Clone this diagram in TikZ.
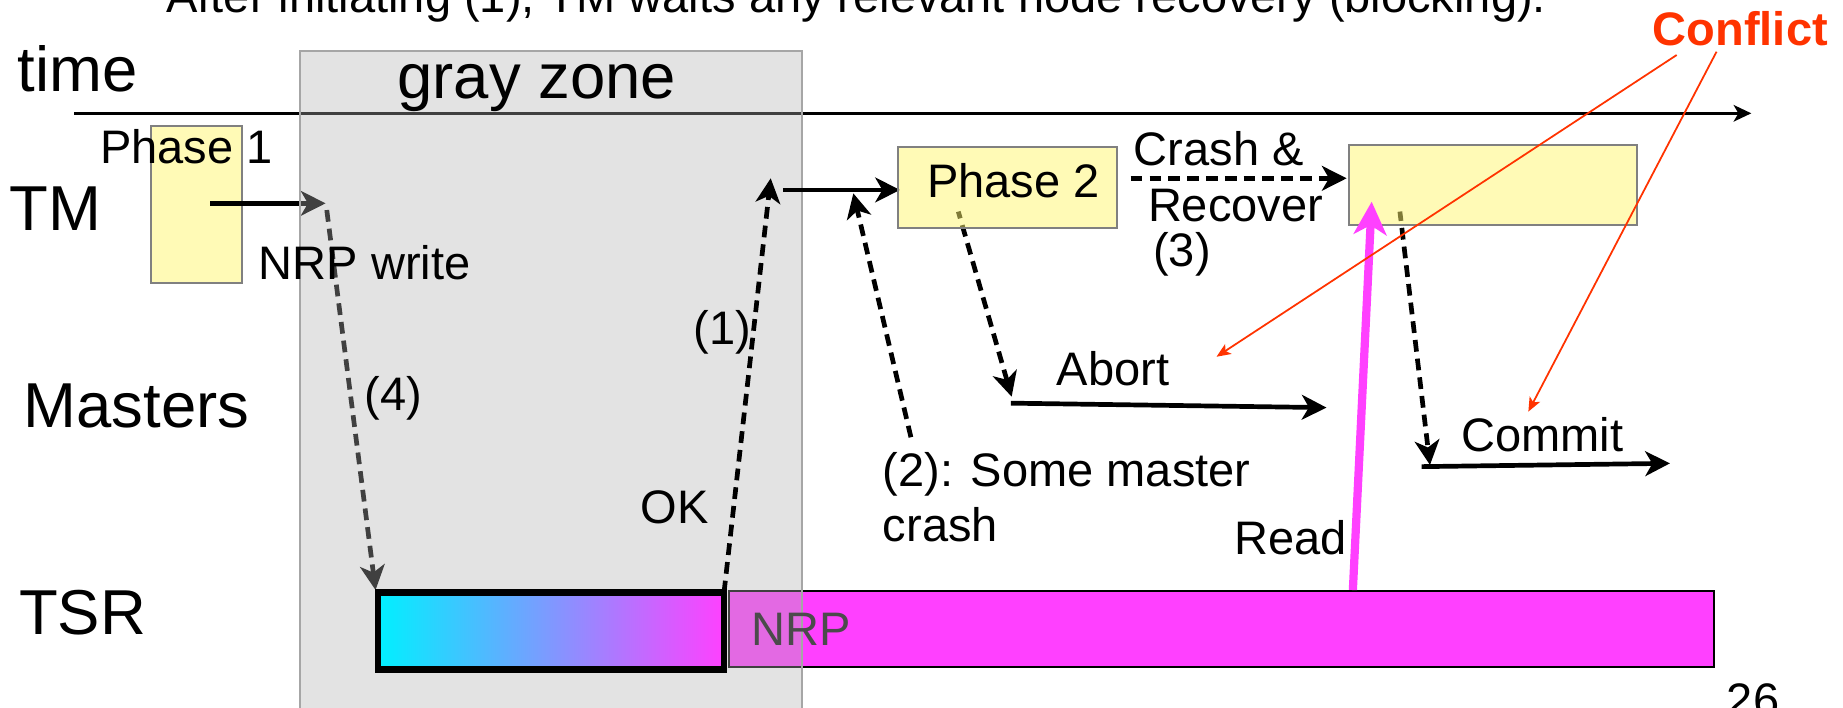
\documentclass[tikz,border=0pt]{standalone}
\usepackage{fontspec}
\setmainfont{Liberation Sans}
\usetikzlibrary{arrows.meta}
\definecolor{yel}{RGB}{255,245,110}
\definecolor{mag}{RGB}{255,64,255}
\definecolor{cy}{RGB}{0,240,255}
\definecolor{conf}{RGB}{255,51,0}
\definecolor{nrptext}{RGB}{75,75,75}
\tikzset{
  bigtxt/.style={font=\fontsize{54}{60}\selectfont, inner sep=0pt, anchor=base west},
  lbl/.style={font=\fontsize{40}{47}\selectfont, inner sep=0pt, anchor=base west},
  ybox/.style={draw=black!50, line width=1.5pt, fill=yel, fill opacity=0.5, anchor=north west, inner sep=0pt, outer sep=0pt},
  tip/.style={-{Stealth[length=21pt,width=21pt,inset=6pt]}},
  dsh/.style={tip, line width=4pt, dash pattern=on 10pt off 6pt},
  sol/.style={tip, line width=4pt},
  redarr/.style={conf, line width=1.5pt, -{Stealth[length=12pt,width=10pt,inset=3pt]}},
}
\begin{document}
\begin{tikzpicture}[x=1pt, y=-1pt]
\useasboundingbox (0,0) rectangle (1568,602);
\clip (0,0) rectangle (1568,602);

% coordinates
\coordinate (axs) at (63,96.4);
\coordinate (axe) at (1490,96.4);
\coordinate (a1s) at (178.7,173);
\coordinate (a1e) at (277,173);
\coordinate (d4s) at (278,178.7);
\coordinate (d4e) at (319.5,502);
\coordinate (okE) at (655.7,151.7);
\coordinate (tm2s) at (666,161.6);
\coordinate (tm2e) at (765.7,161.6);
\coordinate (d2s) at (775,372);
\coordinate (d2e) at (726,164.5);
\coordinate (dabs) at (815.3,180);
\coordinate (dabe) at (860.7,337.5);
\coordinate (abs) at (860,343);
\coordinate (abe) at (1128.6,346.8);
\coordinate (crs) at (962,151.7);
\coordinate (cre) at (1145.7,151.7);
\coordinate (dcs) at (1191,180);
\coordinate (dce) at (1216.6,395.6);
\coordinate (cms) at (1209.5,397);
\coordinate (cme) at (1420.8,394.2);
\coordinate (rds) at (1151,502);
\coordinate (rde) at (1167,171.6);
\coordinate (r1s) at (1426.5,46.8);
\coordinate (r1e) at (1035,303.5);
\coordinate (r2s) at (1460.4,44);
\coordinate (r2e) at (1300.3,350.2);

% time axis
\draw[line width=2.5pt, -{Stealth[length=15pt,width=14pt,inset=4pt]}] (axs) -- (axe);

% Phase 1 box
\node[ybox, minimum width=77.5pt, minimum height=134pt] (p1) at (128.5,107) {};

% arrows under the gray zone
\draw[sol] (a1s) -- (a1e);
\draw[dsh] (d4s) -- (d4e);

% NRP bar
\node[draw=black, line width=1.5pt, fill=mag, anchor=north west, inner sep=0pt, outer sep=0pt,
      minimum width=837.5pt, minimum height=65.2pt] (nrp) at (620.5,502.5) {};

% gray zone
\node[draw=black!35, line width=1.5pt, fill=black!30, fill opacity=0.36, anchor=north west,
      inner sep=0pt, outer sep=0pt, minimum width=427pt, minimum height=600pt] (gz) at (255,43.4) {};

% TSR gradient box
\node[draw=black, line width=5.5pt, left color=cy, right color=mag, anchor=north west,
      inner sep=0pt, outer sep=0pt, minimum width=294.5pt, minimum height=65.5pt] (tsr) at (321.5,504) {};

% dashed arrows (under yellow boxes)
\draw[dsh] (tsr.north east) -- (okE);
\draw[sol] (tm2s) -- (tm2e);
\draw[dsh] (d2s) -- (d2e);
\draw[dsh, dash phase=4pt] (dabs) -- (dabe);
\draw[dsh, dash phase=2pt] (dcs) -- (dce);
\draw[sol] (abs) -- (abe);
\draw[sol] (cms) -- (cme);
\draw[dsh] (crs) -- (cre);

% yellow boxes
\node[ybox, minimum width=186.7pt, minimum height=68.4pt] (p2) at (763.7,125.3) {};
\node[ybox, minimum width=245.3pt, minimum height=68pt] (bb) at (1147.7,123.4) {};

% read arrow
\draw[mag, line width=7pt, -{Stealth[length=28pt,width=28pt,inset=8pt]}] (rds) -- (rde);

% texts
\node[lbl, anchor=base] (title) at (728.5,11) {After initiating (1), TM waits any relevant node recovery (blocking).};
\node[bigtxt] (ttime) at (15,78) {time};
\node[bigtxt] (tgz) at (338,83.7) {gray zone};
\node[lbl] (tp1) at (85,139) {Phase 1};
\node[bigtxt] (ttm) at (8,195.7) {TM};
\node[lbl] (tnw) at (220,238) {NRP write};
\node[bigtxt] (tms) at (20,364) {Masters};
\node[lbl] (t4) at (310,349) {(4)};
\node[bigtxt] (ttsr) at (16,540) {TSR};
\node[lbl] (t1) at (590,293.5) {(1)};
\node[lbl] (tok) at (545,445) {OK};
\node[lbl, text=nrptext] (tnrp) at (639,549.6) {NRP};
\node[lbl] (tp2) at (788.5,168) {Phase 2};
\node[lbl] (tcr) at (964.5,140.4) {Crash \&};
\node[lbl] (trc) at (976.5,188.6) {Recover};
\node[lbl] (t3) at (981,227) {(3)};
\node[lbl] (tab) at (899,327.6) {Abort};
\node[lbl] (t2a) at (751,414) {(2): Some master};
\node[lbl] (t2b) at (751,461) {crash};
\node[lbl] (trd) at (1050,472) {Read};
\node[lbl] (tcm) at (1243,384.3) {Commit};
\node[lbl, text=conf, font=\fontsize{40}{47}\selectfont\bfseries] (tcf) at (1406,38.3) {Conflict};
\node[lbl] (t26) at (1469,609.6) {26};

% red conflict arrows
\draw[redarr] (r1s) -- (r1e);
\draw[redarr] (r2s) -- (r2e);
\end{tikzpicture}
\end{document}
